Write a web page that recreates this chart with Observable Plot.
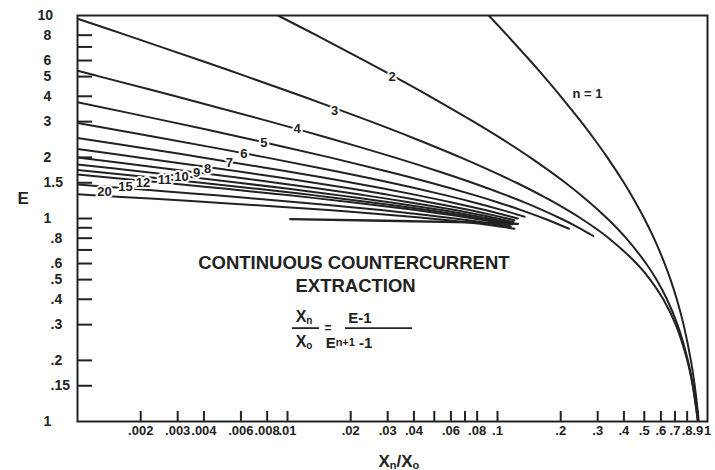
<!DOCTYPE html>
<html><head><meta charset="utf-8">
<script src="https://cdn.jsdelivr.net/npm/d3@7"></script>
<script src="https://cdn.jsdelivr.net/npm/@observablehq/plot@0.6"></script>
<style>
html,body{margin:0;padding:0;background:#fff;}
#chart svg{display:block;}
</style></head><body><div id="chart"></div>
<script>
// Curves: [Xn/Xo, E]
const curveN1 = [[0.0909,10],[0.1111,8],[0.1429,6],[0.1667,5],[0.2,4],[0.25,3],[0.2857,2.5],[0.3333,2],[0.4,1.5],[0.4545,1.2],[0.5,1],[0.5556,0.8],[0.625,0.6],[0.6667,0.5],[0.7143,0.4],[0.7692,0.3],[0.8333,0.2],[0.8696,0.15],[0.9091,0.1]];
const curveN2 = [[0.00901,10],[0.0137,8],[0.02326,6],[0.03226,5],[0.04762,4],[0.07692,3],[0.1026,2.5],[0.1429,2],[0.2105,1.5],[0.2747,1.2],[0.3333,1],[0.4098,0.8],[0.5102,0.6],[0.5714,0.5],[0.641,0.4],[0.7194,0.3],[0.8065,0.2],[0.8529,0.15],[0.9009,0.1]];
const curveN3 = [[0.001,9.64],[0.001709,8],[0.003861,6],[0.00641,5],[0.01176,4],[0.025,3],[0.03941,2.5],[0.06667,2],[0.1231,1.5],[0.1616,1.3],[0.1863,1.2],[0.25,1],[0.3388,0.8],[0.4596,0.6],[0.5333,0.5],[0.6158,0.4],[0.7057,0.3],[0.8013,0.2],[0.8504,0.15],[0.9001,0.1]];
const curveN4 = [[0.001,5.34],[0.00128,5],[0.002933,4],[0.008264,3],[0.01552,2.5],[0.03226,2],[0.05304,1.7],[0.07583,1.5],[0.1106,1.3],[0.1344,1.2],[0.1638,1.1],[0.2,1],[0.2442,0.9],[0.286,0.82]];
const curveN5 = [[0.001,3.741],[0.002747,3],[0.006169,2.5],[0.01587,2],[0.03025,1.7],[0.04812,1.5],[0.0784,1.3],[0.1007,1.2],[0.1296,1.1],[0.1667,1],[0.2134,0.9],[0.2187,0.89]];
const curveN6 = [[0.001,2.951],[0.002462,2.5],[0.007874,2],[0.01748,1.7],[0.03108,1.5],[0.05688,1.3],[0.07742,1.2],[0.1054,1.1],[0.1228,1.05],[0.1345,1.02]];
const curveN7 = [[0.001,2.494],[0.00219,2.2],[0.003922,2.0],[0.007326,1.8],[0.0143,1.6],[0.0203,1.5],[0.02907,1.4],[0.04191,1.3],[0.06061,1.2],[0.08745,1.1],[0.1047,1.05],[0.125,1.0]];
const curveN8 = [[0.001,2.199],[0.001957,2.0],[0.004053,1.8],[0.008865,1.6],[0.01335,1.5],[0.02035,1.4],[0.03125,1.3],[0.04808,1.2],[0.07364,1.1],[0.0907,1.05],[0.1111,1.0],[0.1203,0.98]];
const curveN9 = [[0.001,1.996],[0.002247,1.8],[0.005507,1.6],[0.008824,1.5],[0.01432,1.4],[0.02346,1.3],[0.03852,1.2],[0.06274,1.1],[0.0795,1.05],[0.1,1.0],[0.1142,0.97],[0.1193,0.96]];
const curveN10 = [[0.001,1.845],[0.002049,1.7],[0.00343,1.6],[0.005848,1.5],[0.01013,1.4],[0.01773,1.3],[0.0311,1.2],[0.05396,1.1],[0.07038,1.05],[0.09091,1.0],[0.1106,0.96],[0.1187,0.945]];
const curveN11 = [[0.001,1.733],[0.002139,1.6],[0.003884,1.5],[0.007183,1.4],[0.01345,1.3],[0.02527,1.2],[0.04677,1.1],[0.06282,1.05],[0.08333,1.0],[0.1033,0.96],[0.1174,0.935]];
const curveN12 = [[0.001,1.645],[0.002583,1.5],[0.005104,1.4],[0.01024,1.3],[0.02062,1.2],[0.04078,1.1],[0.05646,1.05],[0.07692,1.0],[0.0972,0.96],[0.1146,0.93]];
const curveN15 = [[0.001,1.469],[0.001845,1.4],[0.004577,1.3],[0.01144,1.2],[0.01795,1.15],[0.02782,1.1],[0.04227,1.05],[0.0625,1.0],[0.0834,0.96],[0.1086,0.92],[0.1156,0.91]];
const curveN20 = [[0.001,1.315],[0.002327,1.25],[0.004444,1.2],[0.008418,1.15],[0.01562,1.1],[0.028,1.05],[0.03878,1.02],[0.04762,1.0],[0.0695,0.96],[0.0968,0.92],[0.1204,0.89]];
const lowerLine = [[0.0103,0.994],[0.074,0.956],[0.125,0.94]];

const curveNames = [1,2,3,4,5,6,7,8,9,10,11,12,15,20];
const curveData = [curveN1,curveN2,curveN3,curveN4,curveN5,curveN6,curveN7,curveN8,curveN9,curveN10,curveN11,curveN12,curveN15,curveN20];

// Curve labels [text, Xn/Xo, E]
const curveLabels = [["n = 1",0.2683,4.11],["2",0.0315,4.98],["3",0.01675,3.39],["4",0.01111,2.754],["5",0.00771,2.35],["6",0.00619,2.074],["7",0.00529,1.881],["8",0.004159,1.757],["9",0.003687,1.679],["10",0.003128,1.596],["11",0.002596,1.551],["12",0.002051,1.499],["15",0.001693,1.425],["20",0.001345,1.354]];

// Axes
const xTickValues = [0.002,0.003,0.004,0.006,0.008,0.01,0.02,0.03,0.04,0.05,0.06,0.07,0.08,0.1,0.2,0.3,0.4,0.5,0.6,0.7,0.8,0.9];
const xLabelValues = [0.002,0.003,0.004,0.006,0.008,0.01,0.02,0.03,0.04,0.06,0.08,0.1,0.2,0.3,0.4,0.5,0.6,0.7,0.8,0.9,1];
const xLabelTexts = [".002",".003",".004",".006",".008",".01",".02",".03",".04",".06",".08",".1",".2",".3",".4",".5",".6",".7",".8",".9","1"];
const yTickValues = [0.15,0.2,0.3,0.4,0.5,0.6,0.7,0.8,0.9,1,1.5,2,3,4,5,6,7,8];
const yLabelValues = [10,8,6,5,4,3,2,1.5,1,0.8,0.6,0.5,0.4,0.3,0.2,0.15,0.1];
const yLabelTexts = ["10","8","6","5","4","3","2","1.5","1",".8",".6",".5",".4",".3",".2",".15","1"];

const titleLines = [["CONTINUOUS COUNTERCURRENT",0.0207,0.605],["EXTRACTION",0.0211,0.464]];
const formulaAt = [0.01568, 0.2868];
const xTitleAt = 0.0341;
const yTitleAt = 1.25;

const rows = curveData.flatMap((pts, i) => pts.map(([x, E]) => ({n: curveNames[i], x, E})));
const lowerRows = lowerLine.map(([x, E]) => ({x, E}));
const labelRows = curveLabels.map(([t, x, E]) => ({t, x, E}));
const yLabs = yLabelValues.map((v, i) => ({v, t: yLabelTexts[i]}));
const xLabs = xLabelValues.map((v, i) => ({v, t: xLabelTexts[i]}));
const titleRows = titleLines.map(([t, x, E]) => ({t, x, E}));

const ink = "#222";
const font = "'Liberation Sans', Arial, Helvetica, sans-serif";

const chart = Plot.plot({
  width: 715, height: 470,
  marginTop: 15, marginRight: 8, marginBottom: 49, marginLeft: 77,
  x: {type: "log", domain: [0.001, 1]},
  y: {type: "log", domain: [0.1, 10]},
  style: {fontFamily: font, background: "#fff", color: ink},
  marks: [
    Plot.line(rows, {x: "x", y: "E", z: "n", curve: "catmull-rom", stroke: ink, strokeWidth: 2, clip: true}),
    Plot.line(lowerRows, {x: "x", y: "E", curve: "catmull-rom", stroke: ink, strokeWidth: 2.3}),
    Plot.axisX(xTickValues, {anchor: "top", frameAnchor: "bottom", tickSize: 11, tickFormat: () => "", label: null, stroke: ink, strokeWidth: 2}),
    Plot.axisY(yTickValues, {anchor: "right", frameAnchor: "left", tickSize: 14, tickFormat: () => "", label: null, stroke: ink, strokeWidth: 2}),
    Plot.frame({stroke: ink, strokeWidth: 2}),
    Plot.text(xLabs, {x: "v", text: "t", frameAnchor: "bottom", dy: 13, fontSize: 13, fontWeight: "bold", fill: ink}),
    Plot.text(yLabs.filter(d => d.t === "10"), {y: "v", text: "t", frameAnchor: "left", textAnchor: "start", dx: -40, fontSize: 14, fontWeight: "bold", fill: ink}),
    Plot.text(yLabs.filter(d => d.t !== "10" && !d.t.startsWith(".")), {y: "v", text: "t", frameAnchor: "left", textAnchor: "start", dx: -34, fontSize: 14, fontWeight: "bold", fill: ink}),
    Plot.text(yLabs.filter(d => d.t.startsWith(".")), {y: "v", text: "t", frameAnchor: "left", textAnchor: "start", dx: -27, fontSize: 14, fontWeight: "bold", fill: ink}),
    Plot.text(["E"], {y: () => yTitleAt, text: d => d, frameAnchor: "left", dx: -60, fontSize: 17, fontWeight: "bold", fill: ink}),
    Plot.text(labelRows, {x: "x", y: "E", text: "t", fontSize: 13, fontWeight: "bold", fill: ink, stroke: "white", strokeWidth: 4, paintOrder: "stroke"}),
    Plot.text(titleRows, {x: "x", y: "E", text: "t", fontSize: 18.5, fontWeight: "bold", fill: ink})
  ]
});
document.getElementById("chart").appendChild(chart);

// Formula and x title with sub/superscripts
const svg = d3.select(chart);
const sx = chart.scale("x"), sy = chart.scale("y");
const fx = sx.apply(formulaAt[0]), fy = sy.apply(formulaAt[1]);
const g = svg.append("g").attr("transform", `translate(${fx},${fy})`)
  .attr("font-family", font).attr("font-weight", "bold").attr("fill", ink);
function term(x, y, main, sub) {
  const t = g.append("text").attr("x", x).attr("y", y).attr("text-anchor", "middle").attr("font-size", 16);
  t.append("tspan").text(main);
  t.append("tspan").attr("font-size", 10).attr("dy", 2).text(sub);
  return t;
}
term(-24, -6, "X", "n");
term(-24, 19, "X", "o");
g.append("line").attr("x1", -36).attr("x2", -9).attr("y1", 0).attr("y2", 0).attr("stroke", ink).attr("stroke-width", 1.8);
g.append("text").attr("x", 0).attr("y", 4).attr("text-anchor", "middle").attr("font-size", 12).text("=");
g.append("text").attr("x", 32).attr("y", -5).attr("text-anchor", "middle").attr("font-size", 15).text("E-1");
g.append("line").attr("x1", 17).attr("x2", 84).attr("y1", 0).attr("y2", 0).attr("stroke", ink).attr("stroke-width", 1.8);
const den = g.append("text").attr("x", 21).attr("y", 20).attr("font-size", 15);
den.append("tspan").text("E");
den.append("tspan").attr("font-size", 11).attr("dy", -2).text("n+1");
den.append("tspan").attr("font-size", 15).attr("dy", 2).text(" -1");

const xt = svg.append("text").attr("x", sx.apply(xTitleAt)).attr("y", 467).attr("text-anchor", "middle")
  .attr("font-family", font).attr("font-weight", "bold").attr("font-size", 17).attr("fill", ink);
xt.append("tspan").text("X");
xt.append("tspan").attr("font-size", 11).attr("dy", 2).text("n");
xt.append("tspan").attr("dy", -2).text("/X");
xt.append("tspan").attr("font-size", 11).attr("dy", 2).text("o");
</script>
</body></html>
